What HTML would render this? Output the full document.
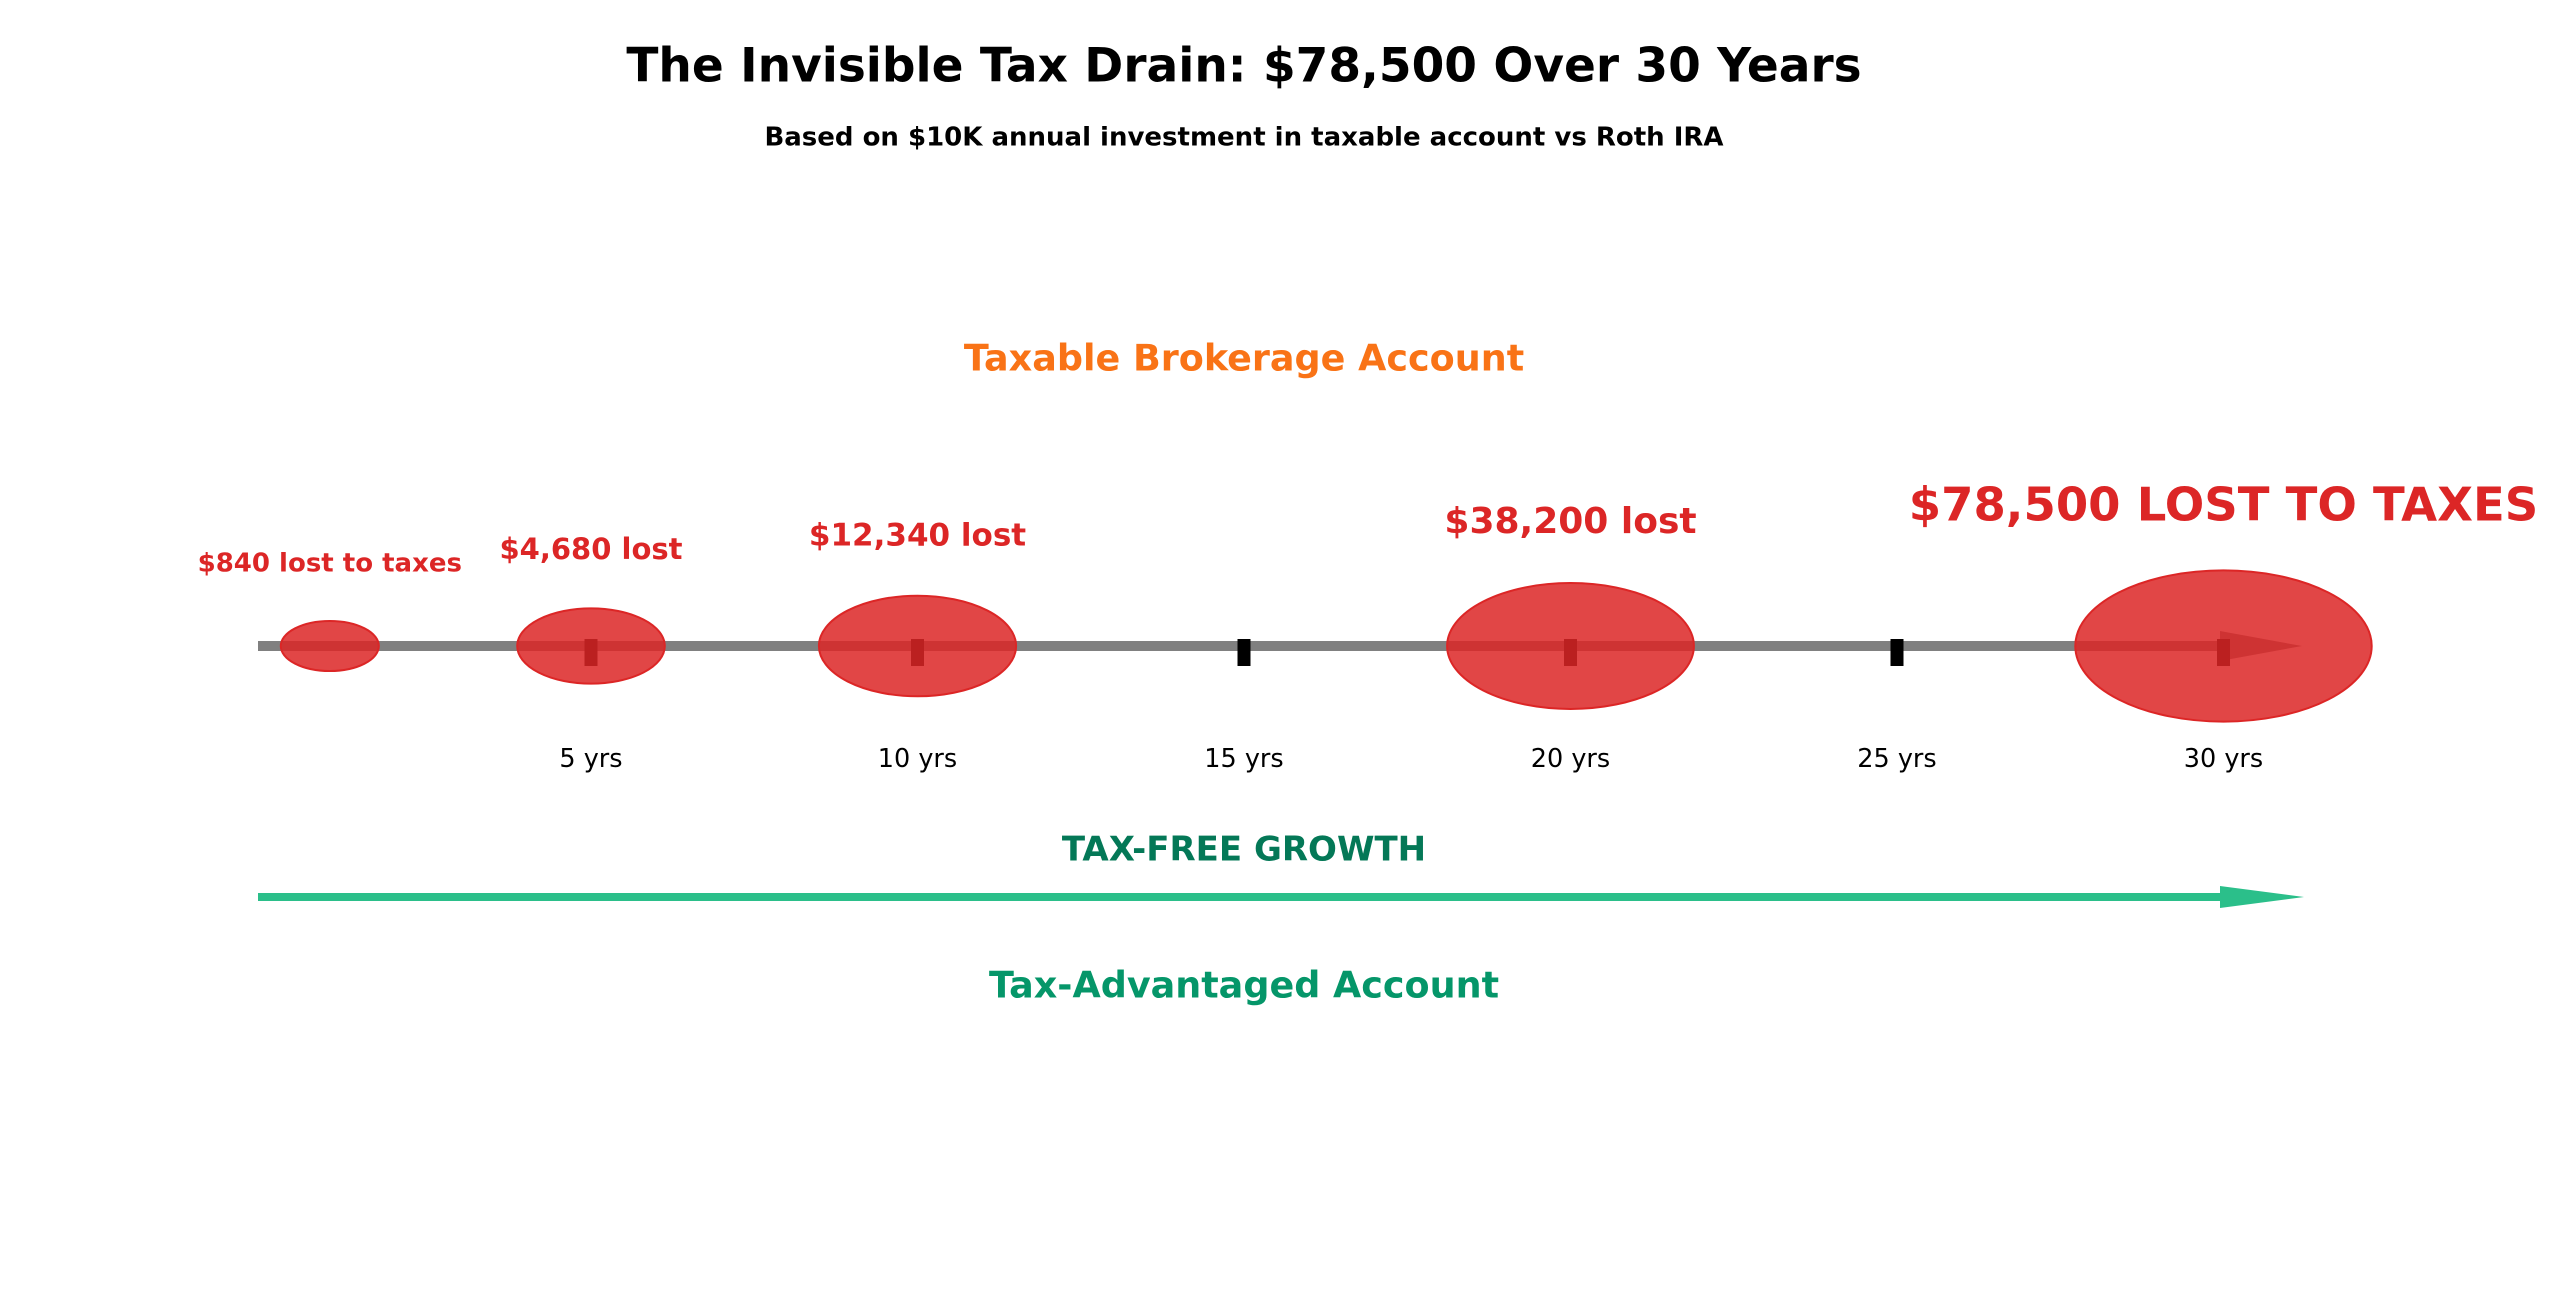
<!DOCTYPE html>
<html><head><meta charset="utf-8"><style>
html,body{margin:0;padding:0;background:#fff;}
svg{display:block;font-family:"DejaVu Sans","Liberation Sans",sans-serif;}
</style></head><body>
<svg id="chart" width="2560" height="1292" viewBox="0 0 2560 1292">
<text x="1244" y="69" text-anchor="middle" dominant-baseline="middle" font-size="47" font-weight="bold" fill="#000">The Invisible Tax Drain: $78,500 Over 30 Years</text>
<text x="1244" y="138" text-anchor="middle" dominant-baseline="middle" font-size="26" font-weight="bold" fill="#000">Based on $10K annual investment in taxable account vs Roth IRA</text>
<text x="1244" y="360" text-anchor="middle" dominant-baseline="middle" font-size="36.5" font-weight="bold" fill="#f97316">Taxable Brokerage Account</text>
<g id="axis"></g>
<g id="ticks"></g>
<g id="bubbles"></g>
<text x="1244" y="851" text-anchor="middle" dominant-baseline="middle" font-size="34" font-weight="bold" fill="#047857">TAX-FREE GROWTH</text>
<g id="green"></g>
<text x="1244" y="987" text-anchor="middle" dominant-baseline="middle" font-size="36.5" font-weight="bold" fill="#059669">Tax-Advantaged Account</text>
</svg>
<script>
const tickYears = [5, 10, 15, 20, 25, 30];
const tickLabels = ["5 yrs", "10 yrs", "15 yrs", "20 yrs", "25 yrs", "30 yrs"];
const bubbleYears = [1, 5, 10, 20, 30];
const bubbleLosses = [840, 4680, 12340, 38200, 78500];
const bubbleLabels = ["$840 lost to taxes", "$4,680 lost", "$12,340 lost", "$38,200 lost", "$78,500 LOST TO TAXES"];

const NS = "http://www.w3.org/2000/svg";
const X0 = 264.5, PX_PER_YEAR = 65.3, AXIS_Y = 646;
function xScale(y){ return X0 + PX_PER_YEAR * y; }
function mk(tag, attrs, parent){
  const e = document.createElementNS(NS, tag);
  for (const k in attrs) e.setAttribute(k, attrs[k]);
  parent.appendChild(e); return e;
}
const axis = document.getElementById('axis');
const l = mk('rect', {x:258, y:AXIS_Y-5, width:2000, height:10, fill:'#808080'}, axis);


const ah = mk('polygon', {points:`2220,${AXIS_Y-15} 2302,${AXIS_Y} 2220,${AXIS_Y+15}`, fill:'#808080'}, axis);



const ticks = document.getElementById('ticks');
tickYears.forEach((yr, i) => {
  const x = xScale(yr);
  const t = mk('rect', {x:x-6.5, y:AXIS_Y-7, width:13, height:27, fill:'#000'}, ticks);
  
  
  const tl = mk('text', {x:x, y:760, 'text-anchor':'middle', 'dominant-baseline':'middle', 'font-size':25.5, fill:'#000'}, ticks);
  tl.textContent = tickLabels[i];
  
  
});

const bubbles = document.getElementById('bubbles');
const fontSizes = [26, 29, 31, 36, 46.5];
bubbleYears.forEach((yr, i) => {
  const x = xScale(yr);
  const rx = 49 + 24.8 * i, ry = rx / 1.96;
  const c = mk('ellipse', {cx:x, cy:AXIS_Y, rx:rx, ry:ry, fill:'#dc2626', 'fill-opacity':0.85, stroke:'#dc2626', 'stroke-width':2}, bubbles);
  
  
  c.setAttribute('data-value', bubbleLosses[i]);
  const ly = [564, 551, 537, 523, 508][i];
  const t = mk('text', {x:x, y:ly, 'text-anchor':'middle', 'dominant-baseline':'middle', 'font-size':fontSizes[i], 'font-weight':'bold', fill:'#dc2626'}, bubbles);
  t.textContent = bubbleLabels[i];
  
  
});

const green = document.getElementById('green');
const gl = mk('rect', {x:258, y:893, width:1970, height:8, fill:'#2bbf8a'}, green);


const gh = mk('polygon', {points:'2220,886 2304,897 2220,908', fill:'#2bbf8a'}, green);


</script>
</body></html>
